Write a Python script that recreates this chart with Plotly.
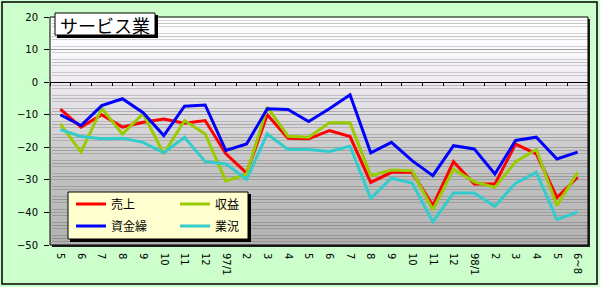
import plotly.graph_objects as go

labels = ["5", "6", "7", "8", "9", "10", "11", "12", "97/1", "2", "3", "4",
          "5", "6", "7", "8", "9", "10", "11", "12", "98/1", "2", "3", "4", "5", "6~8"]

uriage = [-8.3, -13.8, -10.0, -13.8, -12.3, -11.3, -12.6, -11.8, -22.0, -27.9, -10.0, -17.2,
          -17.4, -14.9, -16.7, -30.8, -27.7, -27.7, -37.9, -24.4, -31.3, -31.3, -19.0, -22.0, -35.4, -29.2]
shueki = [-12.8, -21.5, -8.0, -15.9, -9.7, -22.0, -11.8, -15.9, -30.4, -28.2, -7.7, -16.6,
          -16.9, -12.5, -12.5, -28.7, -27.0, -27.2, -39.2, -26.7, -30.6, -32.3, -24.4, -20.7, -37.9, -27.7]
shikinguri = [-10.0, -13.3, -7.2, -5.1, -9.4, -16.4, -7.4, -7.0, -21.0, -19.0, -8.2, -8.4,
              -12.1, -8.2, -3.9, -21.7, -18.5, -24.1, -28.7, -19.5, -20.5, -28.2, -17.9, -16.9, -23.6, -21.5]
gyokyo = [-14.6, -16.7, -17.4, -17.2, -18.5, -21.7, -16.9, -24.4, -25.1, -29.9, -15.9, -20.7,
          -20.7, -21.3, -19.7, -35.7, -29.5, -31.0, -42.9, -34.0, -34.0, -38.1, -31.0, -27.7, -42.2, -39.8]

series_names = ["売上", "収益", "資金繰", "業況"]
series_vals = [uriage, shueki, shikinguri, gyokyo]
series_colors = ["#FF0000", "#99CC00", "#0000FF", "#33CCCC"]
legend_ids = ["legend", "legend2", "legend3", "legend4"]

W, H = 600, 287
ML, MR, MT, MB = 50, 12, 17, 42
PW, PH = W - ML - MR, H - MT - MB
YMIN, YMAX = -50, 20

def xp(px):
    return (px - ML) / PW

def yp(py):
    return (H - MB - py) / PH

idx = list(range(len(labels)))

fig = go.Figure()
for name, vals, col, lg in zip(series_names, series_vals, series_colors, legend_ids):
    fig.add_trace(go.Scatter(x=idx, y=vals, mode="lines", name=name,
                             line=dict(color=col, width=3), legend=lg))
# dummy trace to activate the zero-line axis
fig.add_trace(go.Scatter(x=[], y=[], xaxis="x2", showlegend=False, hoverinfo="skip"))

shapes = []
# outer border
shapes.append(dict(type="rect", xref="paper", yref="paper", x0=xp(2), x1=xp(597), y0=yp(284), y1=yp(2),
                   line=dict(color="black", width=1.5), layer="below"))
# plot-area shadow
shapes.append(dict(type="rect", xref="paper", yref="paper", x0=xp(ML + 2), x1=xp(ML + PW + 2),
                   y0=yp(H - MB + 2), y1=yp(MT + 2), fillcolor="#202020", line=dict(width=0), layer="below"))

# gradient background
stops = [(20, (255, 255, 255)), (10, (250, 249, 251)), (0, (238, 234, 240)), (-10, (222, 220, 224)),
         (-20, (204, 204, 204)), (-30, (192, 192, 192)), (-40, (186, 186, 186)), (-50, (176, 176, 176))]

def colat(v):
    for (v0, c0), (v1, c1) in zip(stops[:-1], stops[1:]):
        if v1 <= v <= v0:
            t = (v0 - v) / (v0 - v1)
            c = [round(a + (b - a) * t) for a, b in zip(c0, c1)]
            return "rgb(%d,%d,%d)" % tuple(c)
    return "rgb(176,176,176)"

step = 1.0
v = YMAX
while v > YMIN:
    shapes.append(dict(type="rect", xref="paper", yref="y", x0=0, x1=1, y0=v - step, y1=v,
                       fillcolor=colat(v - step / 2), line=dict(width=0), layer="below"))
    v -= step

# plot border
shapes.append(dict(type="rect", xref="paper", yref="paper", x0=0, x1=1, y0=0, y1=1,
                   line=dict(color="black", width=1), layer="above"))

# title box
shapes.append(dict(type="rect", xref="paper", yref="paper", x0=xp(57), x1=xp(158), y0=yp(38), y1=yp(15),
                   fillcolor="black", line=dict(width=0), layer="above"))
shapes.append(dict(type="rect", xref="paper", yref="paper", x0=xp(55), x1=xp(155), y0=yp(35), y1=yp(13),
                   fillcolor="white", line=dict(color="black", width=1), layer="above"))
# legend box
shapes.append(dict(type="rect", xref="paper", yref="paper", x0=xp(70), x1=xp(251), y0=yp(242), y1=yp(194),
                   fillcolor="black", line=dict(width=0), layer="above"))
shapes.append(dict(type="rect", xref="paper", yref="paper", x0=xp(68), x1=xp(248), y0=yp(239), y1=yp(192),
                   fillcolor="#FFFFD0", line=dict(color="black", width=1), layer="above"))

annotations = [dict(text="サービス業", xref="paper", yref="paper", x=xp(58), y=yp(24.5),
                    xanchor="left", yanchor="middle", showarrow=False,
                    font=dict(family="Noto Sans CJK JP", size=18, color="black"))]

legend_pos = [(71, 204), (175, 204), (71, 226), (175, 226)]
layout_legends = {}
for lg, (lx, ly) in zip(legend_ids, legend_pos):
    layout_legends[lg] = dict(x=xp(lx), y=yp(ly), xanchor="left", yanchor="middle",
                              bgcolor="rgba(0,0,0,0)", borderwidth=0, itemwidth=30,
                              font=dict(family="Noto Sans CJK JP", size=12, color="black"))

tickfont = dict(family="DejaVu Sans", size=10, color="black")

fig.update_layout(
    width=W, height=H,
    margin=dict(l=ML, r=MR, t=MT, b=MB, autoexpand=False),
    paper_bgcolor="#CCFFCC",
    plot_bgcolor="rgba(0,0,0,0)",
    showlegend=True,
    shapes=shapes,
    annotations=annotations,
    xaxis=dict(range=[-0.5, len(labels) - 0.5], tickmode="array", tickvals=idx, ticktext=labels,
               tickangle=90, showgrid=False, zeroline=False, showline=False, ticks="",
               tickfont=tickfont, ticklabelstandoff=7, fixedrange=True),
    xaxis2=dict(overlaying="x", anchor="free", position=(0 - YMIN) / (YMAX - YMIN), side="bottom",
                range=[-0.5, len(labels) - 0.5], tickmode="linear", tick0=-0.5, dtick=1,
                showline=True, linecolor="black", linewidth=1, ticks="outside", ticklen=3,
                tickcolor="black", showticklabels=False, showgrid=False, zeroline=False),
    yaxis=dict(range=[YMIN, YMAX], tickmode="linear", tick0=YMIN, dtick=10, showgrid=True,
               gridcolor="#A0A0A0", gridwidth=1, zeroline=False, showline=False,
               ticks="outside", ticklen=5, tickcolor="black", tickfont=tickfont, ticklabelstandoff=4),
    **layout_legends,
)

fig.write_html("out.html")
